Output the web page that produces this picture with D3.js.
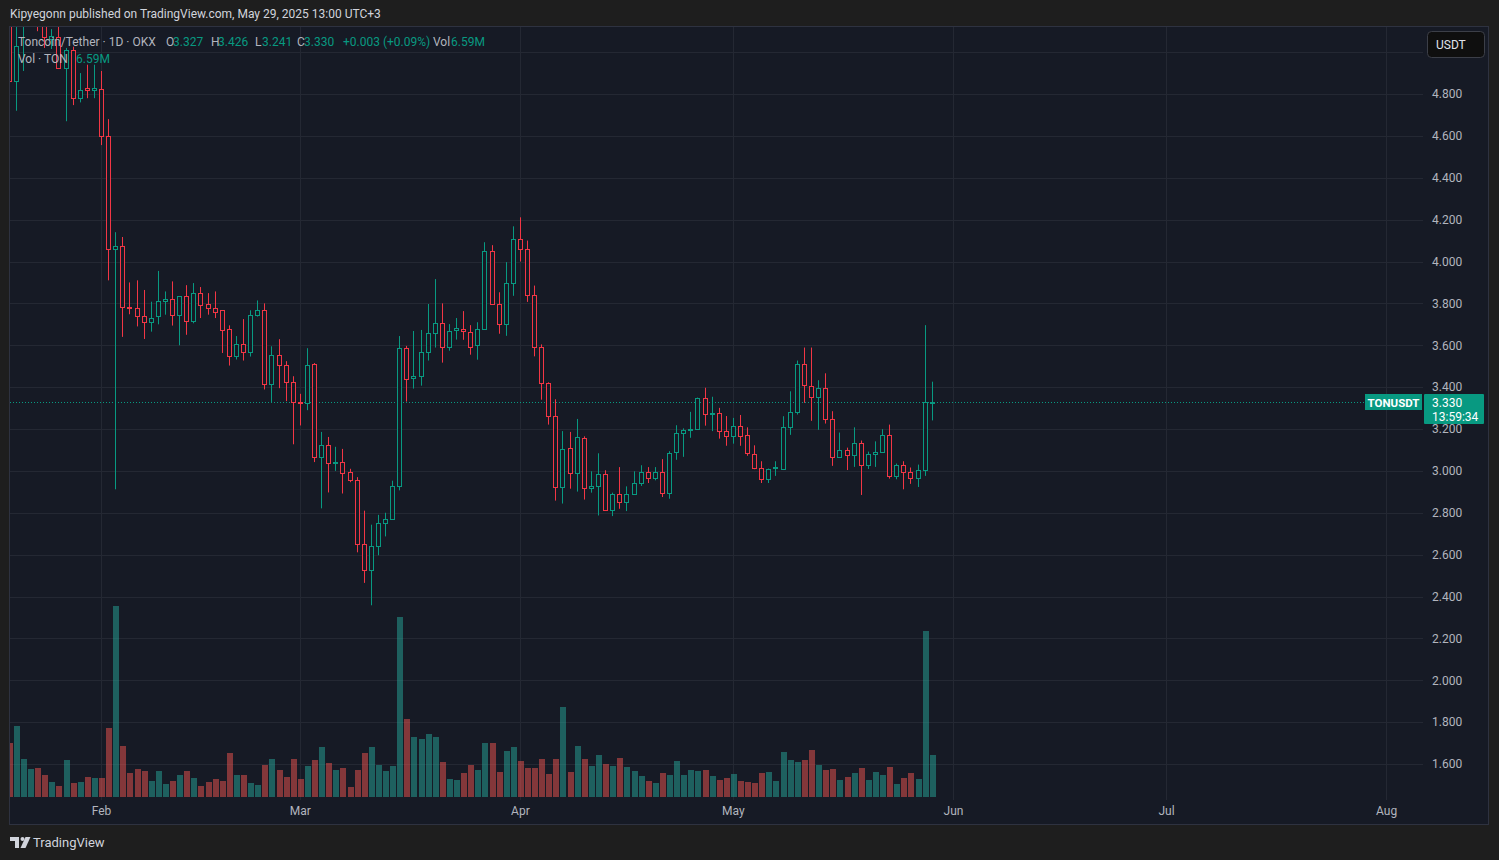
<!DOCTYPE html>
<html>
<head>
<meta charset="utf-8">
<script src="https://cdn.jsdelivr.net/npm/d3@7"></script>
<style>
  html, body { margin: 0; padding: 0; background: #1e1e1e; }
  svg { display: block; font-family: "Trebuchet MS", Roboto, "Noto Sans", sans-serif; }
</style>
</head>
<body>
<div id="chart"></div>
<script>
// daily candles, Jan 19 -> May 29 2025 (TONUSDT, OKX)
var firstDay = "2025-01-19";
var lastDay = "2025-05-29";

var openPrice = [
  // Jan 19-31
  5.25, 4.86, 5.13, 5.38, 5.42, 5.20, 5.065, 5.07, 4.926, 5.01, 4.78, 4.83, 4.82,
  // Feb
  4.824, 4.60, 4.058, 4.074, 3.785, 3.778, 3.74, 3.713, 3.738, 3.813, 3.819, 3.746, 3.833, 3.714,
  3.849, 3.795, 3.78, 3.767, 3.676, 3.548, 3.605, 3.567, 3.743, 3.767, 3.414, 3.552, 3.505, 3.424,
  // Mar
  3.33, 3.324, 3.509, 3.066, 3.123, 3.037, 3.042, 2.994, 2.956, 2.65, 2.527, 2.641, 2.751, 2.77, 2.927,
  3.587, 3.442, 3.455, 3.568, 3.657, 3.705, 3.59, 3.671, 3.68, 3.661, 3.60, 3.68, 4.052, 3.795, 3.70, 3.895,
  // Apr
  4.109, 4.062, 3.838, 3.594, 3.418, 3.26, 2.922, 3.108, 2.989, 3.156, 2.917, 2.927, 2.984, 2.813, 2.891,
  2.853, 2.891, 2.944, 2.997, 2.968, 2.997, 2.896, 3.088, 3.179, 3.194, 3.198, 3.347, 3.27, 3.277, 3.189,
  // May
  3.165, 3.213, 3.17, 3.082, 3.016, 2.963, 3.014, 3.011, 3.211, 3.282, 3.512, 3.407, 3.355, 3.398, 3.246,
  3.068, 3.102, 3.078, 3.135, 3.03, 3.082, 3.092, 3.173, 2.977, 3.03, 2.996, 2.966, 3.006, 3.327
];

var highPrice = [
  5.30, 5.20, 5.45, 5.55, 5.50, 5.28, 5.11, 5.12, 5.02, 5.026, 4.90, 4.94, 4.94,
  4.91, 4.68, 4.14, 4.117, 3.90, 3.91, 3.864, 3.808, 3.955, 3.857, 3.905, 3.833, 3.887, 3.897,
  3.878, 3.849, 3.857, 3.767, 3.695, 3.644, 3.725, 3.767, 3.814, 3.80, 3.595, 3.629, 3.524, 3.452,
  3.368, 3.586, 3.515, 3.186, 3.162, 3.115, 3.105, 3.01, 2.97, 2.81, 2.743, 2.79, 2.80, 2.953, 3.644,
  3.597, 3.668, 3.673, 3.797, 3.916, 3.80, 3.701, 3.73, 3.763, 3.696, 3.71, 4.092, 4.078, 3.853, 3.997, 4.168,
  4.211, 4.10, 3.885, 3.604, 3.423, 3.342, 3.19, 3.186, 3.248, 3.165, 2.998, 3.084, 3.003, 2.896, 3.018,
  2.926, 2.998, 3.027, 3.018, 3.018, 3.056, 3.094, 3.218, 3.203, 3.282, 3.35, 3.397, 3.354, 3.301, 3.262,
  3.253, 3.267, 3.208, 3.122, 3.046, 3.011, 3.046, 3.261, 3.38, 3.527, 3.589, 3.589, 3.433, 3.466, 3.285,
  3.183, 3.111, 3.208, 3.145, 3.092, 3.141, 3.199, 3.221, 3.035, 3.046, 3.016, 3.03, 3.696, 3.426
];

var lowPrice = [
  4.85, 4.72, 4.91, 5.15, 5.10, 5.02, 5.015, 4.926, 4.67, 4.747, 4.76, 4.78, 4.78,
  4.556, 3.91, 2.912, 3.64, 3.748, 3.69, 3.63, 3.665, 3.70, 3.746, 3.694, 3.60, 3.65, 3.705,
  3.73, 3.746, 3.73, 3.563, 3.503, 3.532, 3.527, 3.546, 3.737, 3.389, 3.329, 3.395, 3.333, 3.127,
  3.217, 3.29, 3.042, 2.821, 2.897, 3.0, 2.892, 2.946, 2.611, 2.465, 2.358, 2.597, 2.687, 2.77, 2.907,
  3.331, 3.393, 3.407, 3.527, 3.589, 3.517, 3.574, 3.627, 3.626, 3.555, 3.531, 3.68, 3.795, 3.655, 3.645, 3.836,
  4.0, 3.807, 3.547, 3.34, 3.221, 2.858, 2.844, 2.915, 2.901, 2.863, 2.896, 2.787, 2.81, 2.784, 2.819,
  2.808, 2.886, 2.928, 2.942, 2.955, 2.875, 2.867, 3.053, 3.067, 3.158, 3.198, 3.216, 3.19, 3.154, 3.12,
  3.13, 3.12, 3.072, 3.008, 2.942, 2.942, 2.976, 3.004, 3.172, 3.269, 3.325, 3.239, 3.196, 3.226, 3.024,
  3.068, 3.004, 3.019, 2.885, 3.009, 3.019, 3.086, 2.963, 2.96, 2.912, 2.938, 2.923, 2.976, 3.241
];

var closePrice = [
  4.86, 5.03, 5.38, 5.42, 5.20, 5.07, 5.075, 4.926, 5.01, 4.78, 4.82, 4.82, 4.83,
  4.60, 4.058, 4.074, 3.784, 3.78, 3.74, 3.713, 3.73, 3.813, 3.819, 3.746, 3.833, 3.714, 3.849,
  3.794, 3.78, 3.76, 3.675, 3.548, 3.605, 3.567, 3.743, 3.767, 3.414, 3.552, 3.505, 3.424, 3.329,
  3.324, 3.508, 3.066, 3.123, 3.037, 3.043, 2.989, 2.956, 2.65, 2.527, 2.641, 2.751, 2.77, 2.927, 3.587,
  3.437, 3.453, 3.568, 3.657, 3.705, 3.59, 3.668, 3.681, 3.666, 3.594, 3.68, 4.052, 3.795, 3.70, 3.895, 4.109,
  4.062, 3.838, 3.594, 3.418, 3.26, 2.922, 3.103, 2.989, 3.16, 2.917, 2.927, 2.984, 2.815, 2.891, 2.853,
  2.891, 2.944, 2.997, 2.968, 2.997, 2.896, 3.083, 3.179, 3.194, 3.198, 3.347, 3.27, 3.277, 3.189, 3.165,
  3.213, 3.168, 3.083, 3.016, 2.963, 3.011, 3.019, 3.211, 3.282, 3.512, 3.412, 3.355, 3.398, 3.246, 3.068,
  3.102, 3.078, 3.135, 3.03, 3.082, 3.092, 3.173, 2.977, 3.03, 2.995, 2.966, 3.006, 3.328, 3.33
];

// volume in millions of TON
var volumeM = [
  8.53, 11.2, 5.95, 4.37, 4.53, 3.42, 2.32, 1.69, 5.79, 2.16, 2.32, 3.11, 2.95,
  2.95, 10.84, 30.26, 8.0, 3.74, 4.37, 4.05, 2.47, 4.05, 2.0, 2.47, 3.42, 4.05, 2.95,
  1.69, 2.32, 2.79, 2.47, 6.9, 3.42, 3.42, 2.16, 1.84, 5.0, 5.95, 4.21, 3.11, 5.95,
  2.79, 4.84, 5.79, 7.84, 5.32, 4.21, 4.53, 1.53, 4.21, 6.9, 7.84, 5.0, 4.05, 4.84, 28.5,
  12.4, 9.42, 9.1, 9.9, 9.42, 5.47, 2.79, 2.63, 3.74, 5.0, 4.21, 8.47, 8.47, 3.9, 7.21, 7.84,
  5.63, 4.53, 4.53, 5.95, 3.58, 5.95, 14.16, 3.9, 8.0, 5.95, 4.84, 6.58, 5.16, 4.84, 6.1,
  4.69, 4.05, 3.26, 2.47, 2.16, 3.74, 3.42, 5.63, 3.42, 4.21, 4.05, 4.21, 3.26, 2.63, 2.95,
  3.58, 2.47, 2.32, 2.16, 3.74, 3.9, 2.47, 7.05, 5.79, 5.47, 5.79, 7.37, 5.0, 4.21, 4.37,
  2.63, 3.11, 3.74, 4.53, 2.63, 3.9, 3.42, 4.69, 2.0, 2.95, 3.74, 2.79, 26.2, 6.59
];

// grid rows (the 5.000 row has no visible label, the USDT badge sits there)
var gridTicks = [1.6, 1.8, 2.0, 2.2, 2.4, 2.6, 2.8, 3.0, 3.2, 3.4, 3.6, 3.8, 4.0, 4.2, 4.4, 4.6, 4.8, 5.0];
var priceTicks = [1.6, 1.8, 2.0, 2.2, 2.4, 2.6, 2.8, 3.0, 3.2, 3.4, 3.6, 3.8, 4.0, 4.2, 4.4, 4.6, 4.8];
var monthTicks = ["2025-02-01", "2025-03-01", "2025-04-01", "2025-05-01", "2025-06-01", "2025-07-01", "2025-08-01"];

var lastPrice = 3.330;
var legendItems = [
  {label: "O", value: "3.327"}, {label: "H", value: "3.426"},
  {label: "L", value: "3.241"}, {label: "C", value: "3.330"}
];

// ---- layout ----
var svgWidth = 1499;
var svgHeight = 860;
var pane = {left: 10, top: 27, right: 1423, bottom: 824, edge: 1488};

var upColor = "#089981";
var downColor = "#f23645";
var paneColor = "#161a25";
var gridColor = "#242833";
var textColor = "#b2b5be";

var parseDay = d3.utcParse("%Y-%m-%d");
var days = d3.utcDay.range(parseDay(firstDay), d3.utcDay.offset(parseDay(lastDay), 1));

var candles = days.map(function(d, i) {
  return {date: d, open: openPrice[i], high: highPrice[i], low: lowPrice[i], close: closePrice[i], vol: volumeM[i]};
});

var svg = d3.select("#chart")
  .append("svg")
  .attr("width", svgWidth)
  .attr("height", svgHeight);

// published-by header
svg.append("text")
  .attr("x", 10)
  .attr("y", 18)
  .attr("fill", "#d1d4dc")
  .style("font-size", "12px")
  .text("Kipyegonn published on TradingView.com, May 29, 2025 13:00 UTC+3");

// chart pane
svg.append("rect")
  .attr("x", pane.left - 0.5)
  .attr("y", pane.top - 0.5)
  .attr("width", pane.edge - pane.left + 1)
  .attr("height", pane.bottom - pane.top + 1)
  .attr("fill", paneColor)
  .attr("stroke", "#2e3240");

// scales
var xScale = d3.scaleUtc()
  .domain([parseDay("2025-02-01"), parseDay("2025-06-01")])
  .range([101, 953]);

var yScale = d3.scaleLinear()
  .domain([1.6, 4.8])
  .range([764, 94]);

var volScale = d3.scaleLinear()
  .domain([0, d3.max(volumeM)])
  .range([797, 605.5]);

svg.append("defs").append("clipPath")
  .attr("id", "plotClip")
  .append("rect")
  .attr("x", pane.left)
  .attr("y", pane.top)
  .attr("width", pane.right - pane.left)
  .attr("height", 800 - pane.top);

// grid
var gridGroup = svg.append("g").attr("clip-path", "url(#plotClip)");

gridGroup.selectAll("line.hgrid")
  .data(gridTicks)
  .enter()
  .append("line")
  .attr("class", "hgrid")
  .attr("x1", pane.left)
  .attr("x2", pane.right)
  .attr("y1", d => Math.round(yScale(d)) + 0.5)
  .attr("y2", d => Math.round(yScale(d)) + 0.5)
  .attr("stroke", gridColor);

gridGroup.selectAll("line.vgrid")
  .data(monthTicks.map(parseDay))
  .enter()
  .append("line")
  .attr("class", "vgrid")
  .attr("x1", d => Math.round(xScale(d)) + 0.5)
  .attr("x2", d => Math.round(xScale(d)) + 0.5)
  .attr("y1", pane.top)
  .attr("y2", 800)
  .attr("stroke", gridColor);

var plot = svg.append("g").attr("clip-path", "url(#plotClip)");

// volume bars
plot.append("g").selectAll("rect")
  .data(candles)
  .enter()
  .append("rect")
  .attr("x", d => Math.round(xScale(d.date)) - 2.5)
  .attr("width", 6)
  .attr("y", d => volScale(d.vol))
  .attr("height", d => volScale(0) - volScale(d.vol))
  .attr("fill", d => d.close >= d.open ? "rgba(38,166,154,0.5)" : "rgba(239,83,80,0.5)")
  .attr("shape-rendering", "crispEdges");

// last price dotted line
plot.append("line")
  .attr("x1", pane.left)
  .attr("x2", pane.right)
  .attr("y1", Math.round(yScale(lastPrice)) + 0.5)
  .attr("y2", Math.round(yScale(lastPrice)) + 0.5)
  .attr("stroke", upColor)
  .attr("stroke-dasharray", "1,2");

// candles (hollow bodies)
var candleGroup = plot.append("g")
  .selectAll("g")
  .data(candles)
  .enter()
  .append("g");

candleGroup.append("line")
  .attr("x1", d => Math.round(xScale(d.date)) + 0.5)
  .attr("x2", d => Math.round(xScale(d.date)) + 0.5)
  .attr("y1", d => yScale(d.high))
  .attr("y2", d => yScale(d.low))
  .attr("stroke", d => d.close >= d.open ? upColor : downColor);

candleGroup.append("rect")
  .attr("x", d => Math.round(xScale(d.date)) - 1.5)
  .attr("width", 4)
  .attr("y", d => Math.round(yScale(Math.max(d.open, d.close))) + 0.5)
  .attr("height", d => Math.max(1, Math.round(yScale(Math.min(d.open, d.close))) - Math.round(yScale(Math.max(d.open, d.close)))))
  .attr("fill", paneColor)
  .attr("stroke", d => d.close >= d.open ? upColor : downColor);

// price axis
var priceAxis = svg.append("g")
  .attr("transform", `translate(${pane.right}, 0)`)
  .call(d3.axisRight(yScale).tickValues(priceTicks).tickFormat(d3.format(".3f")).tickSize(0).tickPadding(9));
priceAxis.select(".domain").remove();
priceAxis.selectAll("text")
  .attr("fill", textColor)
  .style("font-size", "12px")
  .style("font-family", "\"Trebuchet MS\", Roboto, sans-serif");

// time axis
var timeAxis = svg.append("g")
  .attr("transform", "translate(0, 800)")
  .call(d3.axisBottom(xScale).tickValues(monthTicks.map(parseDay)).tickFormat(d3.utcFormat("%b")).tickSize(0).tickPadding(6));
timeAxis.select(".domain").remove();
timeAxis.selectAll("text")
  .attr("fill", textColor)
  .style("font-size", "12px")
  .style("font-family", "\"Trebuchet MS\", Roboto, sans-serif");

// currency badge
svg.append("rect")
  .attr("x", 1427.5).attr("y", 31.5)
  .attr("width", 57).attr("height", 26)
  .attr("rx", 4)
  .attr("fill", "#0f0f0f")
  .attr("stroke", "#3c3f48");
svg.append("text")
  .attr("x", 1436).attr("y", 48.5)
  .attr("fill", "#e0e3eb")
  .style("font-size", "12px")
  .text("USDT");

// last price labels
var lastY = Math.round(yScale(lastPrice));
svg.append("rect")
  .attr("x", 1365).attr("y", lastY - 8)
  .attr("width", 57).attr("height", 16)
  .attr("fill", upColor);
svg.append("text")
  .attr("x", 1393.5).attr("y", lastY + 4.5)
  .attr("text-anchor", "middle")
  .attr("fill", "#ffffff")
  .style("font-size", "11.5px")
  .style("font-weight", "bold")
  .text("TONUSDT");
svg.append("rect")
  .attr("x", 1424).attr("y", lastY - 8)
  .attr("width", 60).attr("height", 30)
  .attr("rx", 1)
  .attr("fill", upColor);
svg.append("text")
  .attr("x", 1432).attr("y", lastY + 4.5)
  .attr("fill", "#ffffff")
  .style("font-size", "12px")
  .text(d3.format(".3f")(lastPrice));
svg.append("text")
  .attr("x", 1432).attr("y", lastY + 18.5)
  .attr("fill", "#ffffff")
  .style("font-size", "12px")
  .text("13:59:34");

// legend
var legend = svg.append("g").style("font-size", "12px");
legend.append("text")
  .attr("x", 18).attr("y", 45.5)
  .attr("fill", textColor)
  .text("Toncoin/Tether · 1D · OKX");

var legendX = [166, 211, 255, 297];
legendItems.forEach(function(item, i) {
  legend.append("text")
    .attr("x", legendX[i]).attr("y", 45.5)
    .attr("fill", textColor)
    .text(item.label);
  legend.append("text")
    .attr("x", legendX[i] + 7).attr("y", 45.5)
    .attr("fill", upColor)
    .text(item.value);
});
legend.append("text")
  .attr("x", 343).attr("y", 45.5)
  .attr("fill", upColor)
  .text("+0.003 (+0.09%)");
legend.append("text")
  .attr("x", 433).attr("y", 45.5)
  .attr("fill", textColor)
  .text("Vol");
legend.append("text")
  .attr("x", 451).attr("y", 45.5)
  .attr("fill", upColor)
  .text("6.59M");
legend.append("text")
  .attr("x", 18).attr("y", 62.5)
  .attr("fill", textColor)
  .text("Vol · TON");
legend.append("text")
  .attr("x", 76).attr("y", 62.5)
  .attr("fill", upColor)
  .text("6.59M");

// TradingView footer
var logo = svg.append("g").attr("fill", "#d1d4dc");
logo.append("path").attr("d", "M10,837 h9 v11 h-4 v-7 h-5 z");
logo.append("circle").attr("cx", 22.5).attr("cy", 839).attr("r", 2);
logo.append("path").attr("d", "M25.5,837 h5 l-5,11 h-5 z");
svg.append("text")
  .attr("x", 33).attr("y", 847)
  .attr("fill", "#d1d4dc")
  .style("font-size", "13px")
  .text("TradingView");
</script>
</body>
</html>
